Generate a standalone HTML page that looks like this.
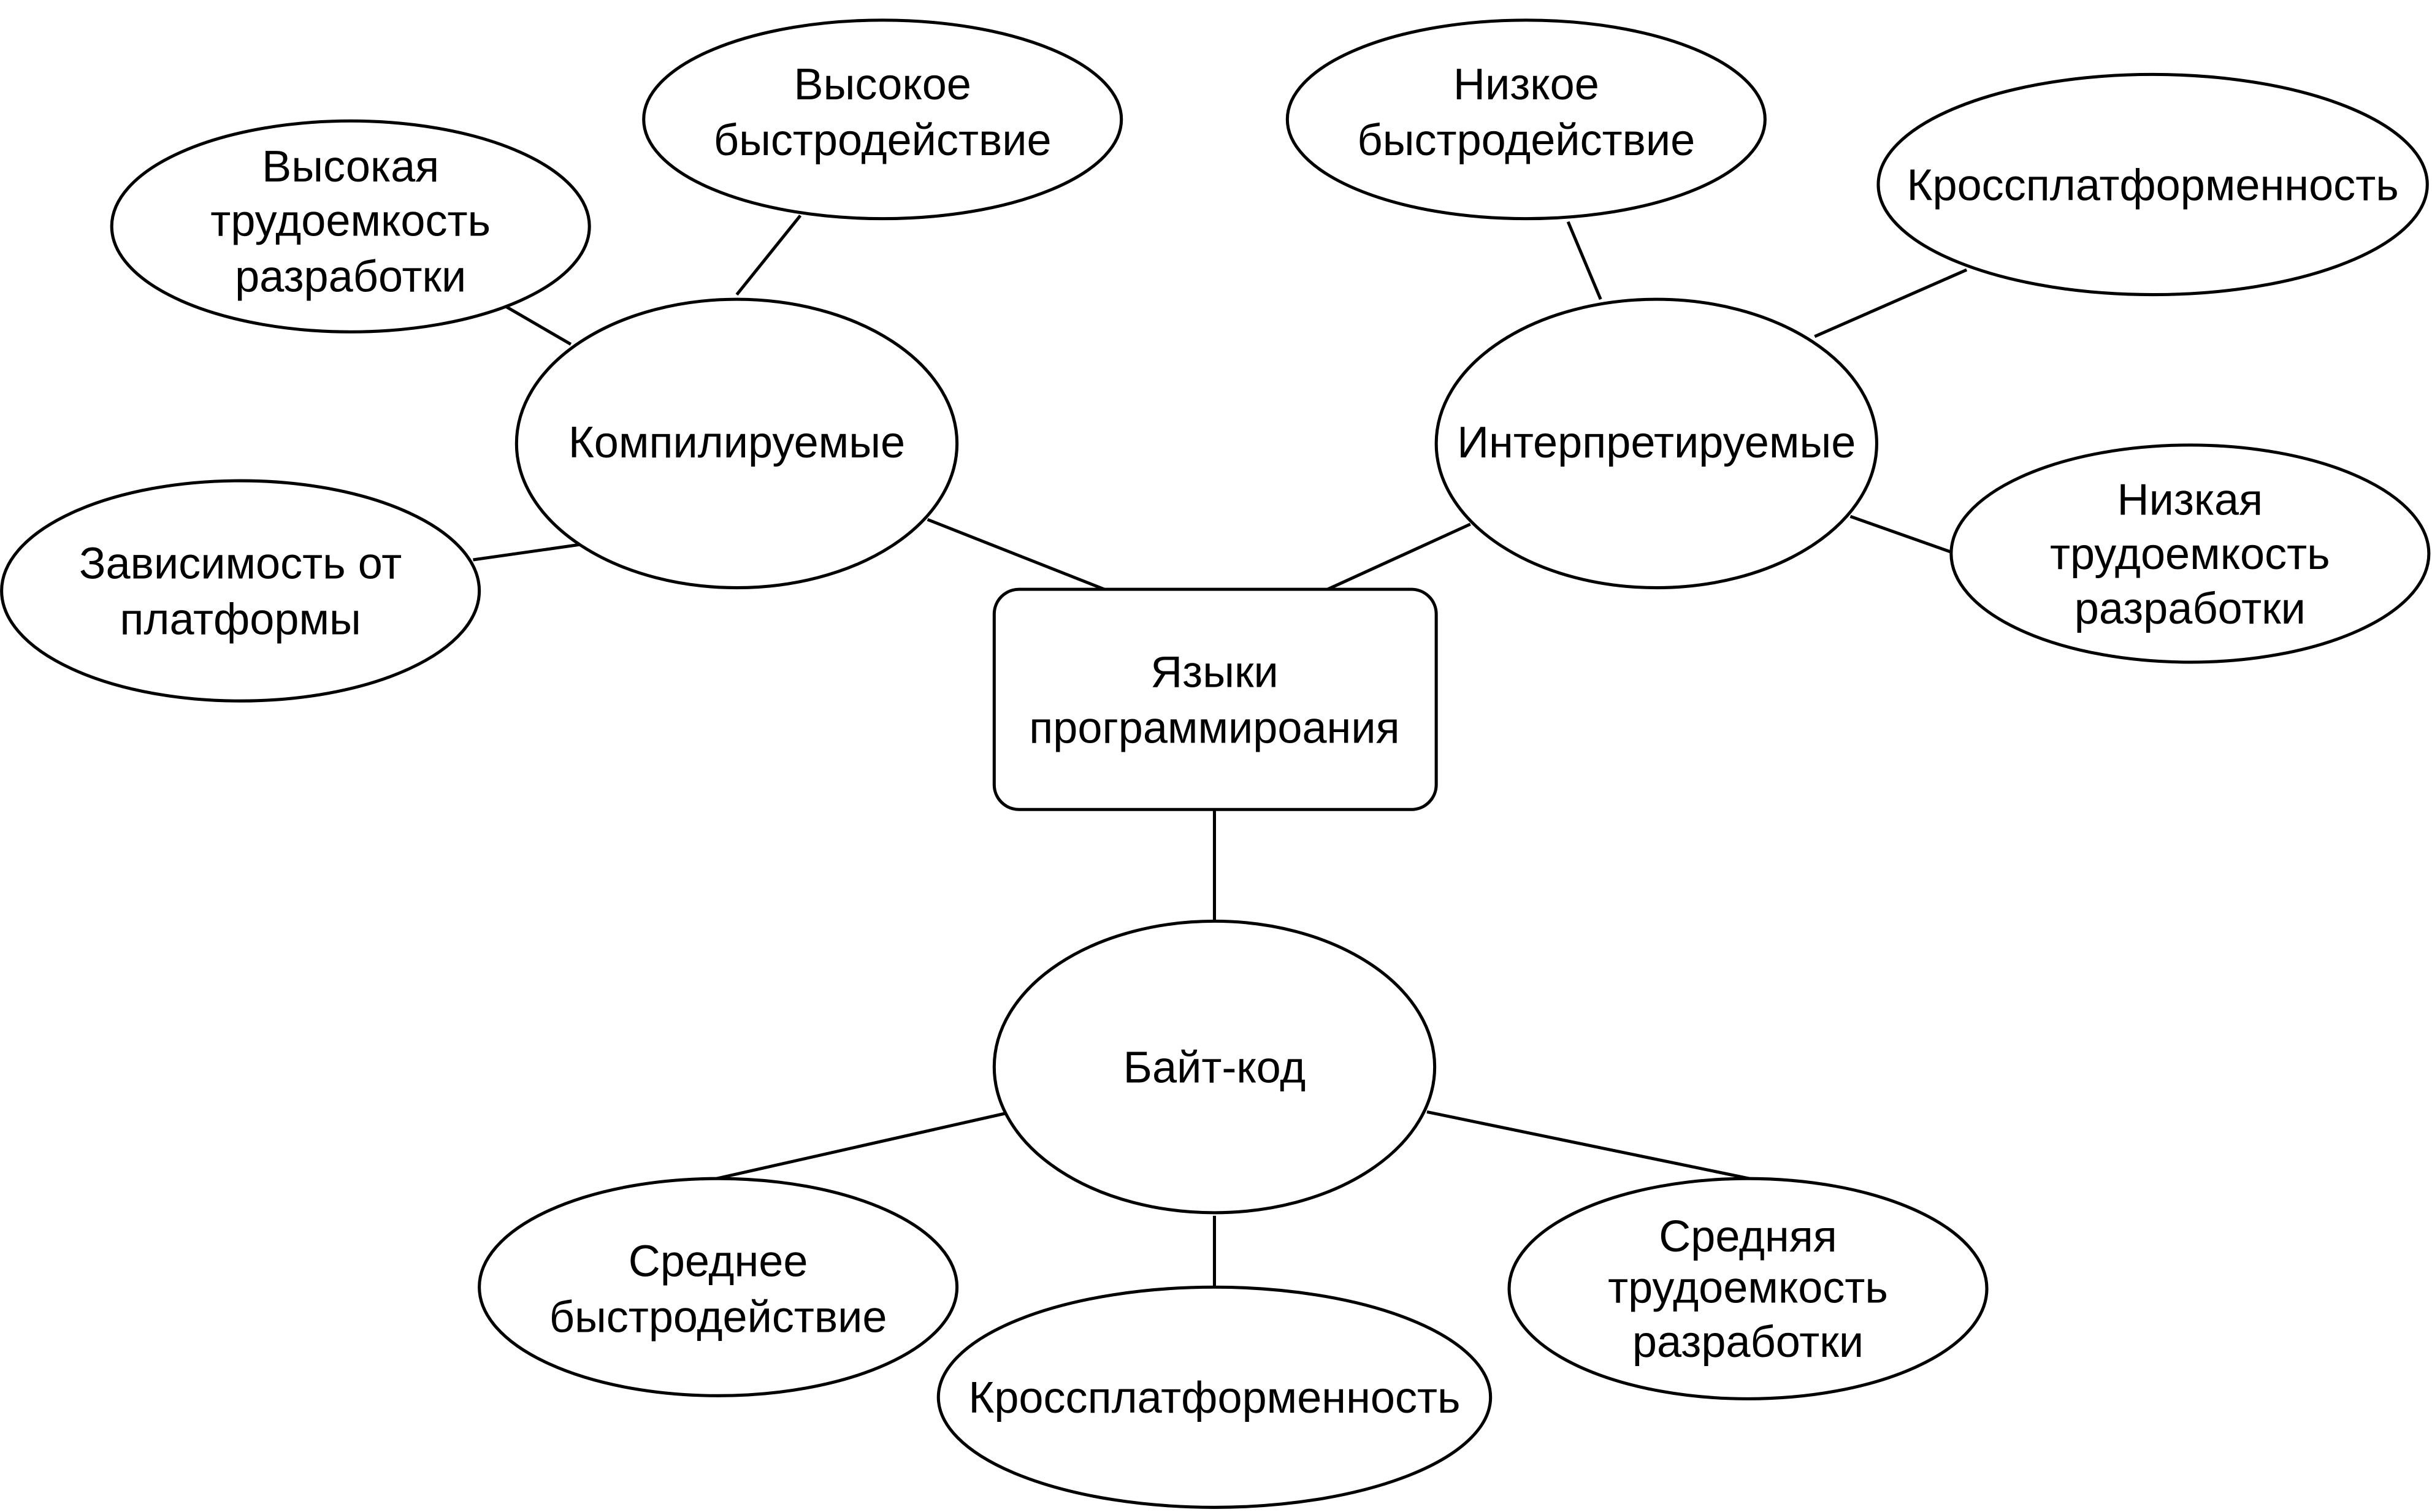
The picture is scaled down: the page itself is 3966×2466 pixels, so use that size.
<!DOCTYPE html>
<html><head><meta charset="utf-8"><style>
html,body{margin:0;padding:0;background:#fff;}
svg{display:block;}
text{font-family:"Liberation Sans","DejaVu Sans",sans-serif;font-size:28.5px;fill:#000;text-anchor:middle;}
</style></head><body>
<svg width="3966" height="2466" viewBox="0 0 1568 975" xmlns="http://www.w3.org/2000/svg">
<g stroke="#000" stroke-width="2" fill="none">
<line x1="475" y1="190" x2="516" y2="139"/>
<line x1="325" y1="197" x2="368" y2="222"/>
<line x1="305" y1="361" x2="375" y2="351"/>
<line x1="598" y1="335" x2="712" y2="380"/>
<line x1="1011" y1="143" x2="1032" y2="193"/>
<line x1="1170" y1="217" x2="1268" y2="174"/>
<line x1="1193" y1="333" x2="1258" y2="356"/>
<line x1="948" y1="338" x2="856" y2="380"/>
<line x1="783" y1="522" x2="783" y2="594"/>
<line x1="648" y1="718" x2="462" y2="760"/>
<line x1="920" y1="717" x2="1128" y2="760"/>
<line x1="783" y1="784" x2="783" y2="830"/>
</g>
<g stroke="#000" stroke-width="2" fill="#fff">
<ellipse cx="569" cy="77" rx="154" ry="64"/>
<ellipse cx="226" cy="146" rx="154" ry="68"/>
<ellipse cx="475" cy="286" rx="142" ry="93"/>
<ellipse cx="155" cy="381" rx="154" ry="71"/>
<ellipse cx="984" cy="77" rx="154" ry="64"/>
<ellipse cx="1388" cy="119" rx="177" ry="71"/>
<ellipse cx="1068" cy="286" rx="142" ry="93"/>
<ellipse cx="1412" cy="357" rx="154" ry="70"/>
<rect x="641" y="380" width="285" height="142" rx="16"/>
<ellipse cx="783" cy="688" rx="142" ry="94"/>
<ellipse cx="463" cy="830" rx="154" ry="70"/>
<ellipse cx="783" cy="901" rx="178" ry="71"/>
<ellipse cx="1127" cy="831" rx="154" ry="71"/>
</g>
<text x="569" y="64">Высокое</text>
<text x="569" y="100">быстродействие</text>
<text x="226" y="117">Высокая</text>
<text x="226" y="152">трудоемкость</text>
<text x="226" y="188">разработки</text>
<text x="475" y="295">Компилируемые</text>
<text x="155" y="373">Зависимость от</text>
<text x="155" y="409">платформы</text>
<text x="984" y="64">Низкое</text>
<text x="984" y="100">быстродействие</text>
<text x="1388" y="129">Кроссплатформенность</text>
<text x="1068" y="295">Интерпретируемые</text>
<text x="1412" y="332">Низкая</text>
<text x="1412" y="367">трудоемкость</text>
<text x="1412" y="402">разработки</text>
<text x="783" y="443">Языки</text>
<text x="783" y="479">программироания</text>
<text x="783" y="698">Байт-код</text>
<text x="463" y="823">Среднее</text>
<text x="463" y="859">быстродействие</text>
<text x="783" y="911">Кроссплатформенность</text>
<text x="1127" y="807">Средняя</text>
<text x="1127" y="840">трудоемкость</text>
<text x="1127" y="875">разработки</text>
</svg>
</body></html>
